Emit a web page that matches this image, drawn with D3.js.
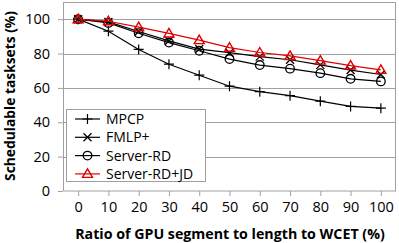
<!DOCTYPE html>
<html>
<head>
<script src="https://d3js.org/d3.v7.min.js"></script>
<style>
	body { margin: 0; background: #fff; }
	svg { display: block; }
	text { font-family: "Open Sans", "Liberation Sans", sans-serif; fill: #000; }
</style>
</head>
<body>
<div id="chart"></div>
<script>
	// data
	var ratios = [0, 10, 20, 30, 40, 50, 60, 70, 80, 90, 100];
	var mpcp = [100, 93, 82.4, 73.8, 67.4, 61, 57.8, 55.5, 52.3, 49.2, 48.2];
	var fmlp = [100, 98.4, 92.8, 87.4, 82.6, 80.5, 78.2, 76.4, 73.4, 70.4, 67.8];
	var serverRd = [100, 97.8, 91.8, 86.4, 81.6, 76.8, 73.3, 71.2, 68.6, 65.3, 63.8];
	var serverRdJd = [100, 98.8, 95.4, 91.7, 87.8, 83.4, 80.6, 78.6, 75.9, 73, 70.5];
	var yTicks = [0, 20, 40, 60, 80, 100];

	var series = [
		{name: "MPCP", values: mpcp, marker: "plus", color: "#000"},
		{name: "FMLP+", values: fmlp, marker: "cross", color: "#000"},
		{name: "Server-RD", values: serverRd, marker: "circle", color: "#000"},
		{name: "Server-RD+JD", values: serverRdJd, marker: "triangle", color: "#e00000"}
	];

	var W = 399, H = 243;
	var margin = {top: 2, right: 3, bottom: 52, left: 63};
	var width = W - margin.left - margin.right;
	var height = H - margin.top - margin.bottom;

	var svg = d3.select("#chart").append("svg")
		.attr("width", W)
		.attr("height", H);

	var g = svg.append("g")
		.attr("transform", "translate(" + margin.left + "," + margin.top + ")");

	var x = d3.scalePoint()
		.domain(ratios)
		.range([0, width])
		.padding(0.5);

	var y = d3.scaleLinear()
		.domain([0, 110])
		.range([height, 0]);

	var grey = "#a0a0a0";

	// gridlines
	g.selectAll(".grid")
		.data(yTicks.filter(function(d){ return d > 0; }))
		.enter().append("line")
		.attr("x1", 0).attr("x2", width)
		.attr("y1", function(d){ return Math.round(y(d)) + 0.5; })
		.attr("y2", function(d){ return Math.round(y(d)) + 0.5; })
		.style("stroke", grey).style("stroke-width", 1);

	// plot frame (top / right)
	g.append("path")
		.attr("d", "M0.5," + 0.5 + "H" + (width - 0.5) + "V" + height)
		.style("fill", "none").style("stroke", grey);

	// axes
	var yAxis = d3.axisLeft(y).tickValues(yTicks).tickSize(5).tickPadding(8);
	var yg = g.append("g").call(yAxis);
	var xAxis = d3.axisBottom(x).tickSize(5).tickPadding(6);
	var xg = g.append("g").attr("transform", "translate(0," + height + ")").call(xAxis);

	[yg, xg].forEach(function(a){
		a.select(".domain").style("stroke", grey);
		a.selectAll(".tick line").style("stroke", grey);
		a.selectAll("text")
			.style("font-size", "14.5px")
			.style("font-family", "'Open Sans', sans-serif");
	});
	xg.select(".domain").attr("d", "M0.5,0H" + width);
	yg.select(".domain").attr("d", "M0.5," + height + "V0");

	var line = d3.line()
		.x(function(d, i){ return x(ratios[i]); })
		.y(function(d){ return y(d); });

	function drawMarker(sel, type, color) {
		if (type === "plus") {
			sel.append("path").attr("d", "M-5,0H5M0,-5V5")
				.style("stroke", color).style("stroke-width", 1.2).style("fill", "none");
		} else if (type === "cross") {
			sel.append("path").attr("d", "M-4,-4L4,4M-4,4L4,-4")
				.style("stroke", color).style("stroke-width", 1.3).style("fill", "none");
		} else if (type === "circle") {
			sel.append("circle").attr("r", 4.3)
				.style("stroke", color).style("stroke-width", 1.3).style("fill", "none");
		} else {
			sel.append("path").attr("d", "M0,-5L5,3.5H-5Z")
				.style("stroke", color).style("stroke-width", 1.4).style("fill", "none");
		}
	}

	series.forEach(function(s){
		g.append("path")
			.datum(s.values)
			.attr("d", line)
			.style("fill", "none")
			.style("stroke", s.color)
			.style("stroke-width", 1.2);

		g.selectAll(".m-" + s.marker)
			.data(s.values)
			.enter().append("g")
			.attr("class", "m-" + s.marker)
			.attr("transform", function(d, i){ return "translate(" + x(ratios[i]) + "," + y(d) + ")"; })
			.each(function(){ drawMarker(d3.select(this), s.marker, s.color); });
	});

	// legend
	var lg = svg.append("g").attr("transform", "translate(66,109)");
	lg.append("rect")
		.attr("x", 0.5).attr("y", 0.5)
		.attr("width", 139).attr("height", 72)
		.style("fill", "#fff").style("stroke", grey);

	var items = lg.selectAll(".item")
		.data(series)
		.enter().append("g")
		.attr("transform", function(d, i){ return "translate(0," + (10 + i * 18.3) + ")"; });

	items.append("line")
		.attr("x1", 9).attr("x2", 34).attr("y1", 0).attr("y2", 0)
		.style("stroke", function(d){ return d.color; })
		.style("stroke-width", 1.2);

	items.each(function(d){
		var m = d3.select(this).append("g").attr("transform", "translate(21.5,0)");
		drawMarker(m, d.marker, d.color);
	});

	items.append("text")
		.attr("x", 40).attr("y", 0)
		.attr("dy", "0.36em")
		.style("font-size", "14px")
		.text(function(d){ return d.name; });

	// shrink / grow a title so it covers the same span as in the original
	function fit(t, span, size) {
		var len = t.node().getComputedTextLength();
		t.style("font-size", (size * span / len) + "px");
	}

	// axis titles
	var xt = svg.append("text")
		.attr("x", 230)
		.attr("y", 238.5)
		.attr("text-anchor", "middle")
		.style("font-size", "14px")
		.style("font-weight", "bold")
		.text("Ratio of GPU segment to length to WCET (%)");
	fit(xt, 310, 14);

	var yt = svg.append("text")
		.attr("transform", "translate(14.5,96) rotate(-90)")
		.attr("text-anchor", "middle")
		.style("font-size", "14px")
		.style("font-weight", "bold")
		.text("Schedulable tasksets (%)");
	fit(yt, 170, 14);
</script>
</body>
</html>
